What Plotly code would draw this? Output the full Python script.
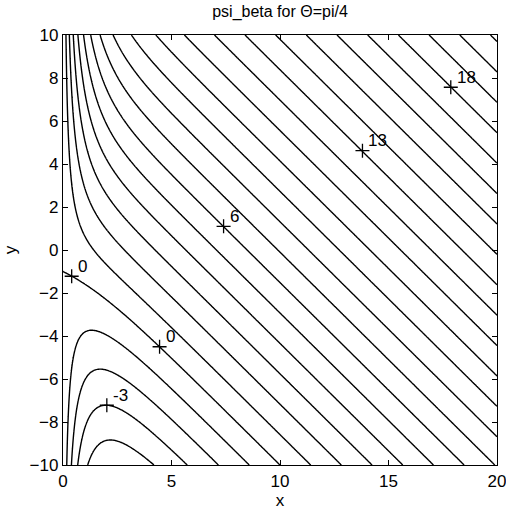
import numpy as np
import plotly.graph_objects as go

# Field: psi_beta for Theta = pi/4  (psi = x sin(T) + y cos(T) (1 - exp(-x)))
theta = np.pi / 4
x_range = [0, 20]
y_range = [-10, 10]
level_start, level_end, level_step = -6, 22, 1

# Contour labels (value, position)
label_x = [0.40, 4.45, 2.02, 7.40, 13.8, 17.87]
label_y = [-1.22, -4.50, -7.22, 1.10, 4.62, 7.57]
label_text = ["0", "0", "-3", "6", "13", "18"]

x_ticks = [0, 5, 10, 15, 20]
y_ticks = [-10, -8, -6, -4, -2, 0, 2, 4, 6, 8, 10]

xs = np.concatenate([np.linspace(0.0005, 0.5, 300), np.linspace(0.51, 20, 500)])
ys = np.linspace(-10, 10, 500)
X, Y = np.meshgrid(xs, ys)
Z = X * np.sin(theta) + Y * np.cos(theta) * (1 - np.exp(-X))

font = "Liberation Sans, Arial, Helvetica, sans-serif"

fig = go.Figure()
fig.add_trace(go.Contour(
    x=xs, y=ys, z=Z,
    contours=dict(start=level_start, end=level_end, size=level_step, coloring="lines"),
    colorscale=[[0, "black"], [1, "black"]],
    line=dict(width=1.4, color="black"),
    showscale=False, hoverinfo="skip",
))
fig.add_trace(go.Scatter(
    x=label_x, y=label_y, mode="markers",
    marker=dict(symbol="cross-thin", size=10, line=dict(width=1.3, color="black"), color="black"),
    showlegend=False, hoverinfo="skip",
))
for lx, ly, lt in zip(label_x, label_y, label_text):
    fig.add_annotation(x=lx, y=ly, text=lt, showarrow=False, xanchor="left", yanchor="middle",
                       xshift=4, yshift=10, font=dict(family=font, size=17, color="black"))

axis_common = dict(
    showgrid=False, zeroline=False, showline=True, linecolor="black", linewidth=1.4,
    mirror="ticks", ticks="inside", ticklen=5, tickcolor="black", automargin=False,
    ticklabeloverflow="allow",
    tickfont=dict(family=font, size=17, color="black"),
)
fig.update_xaxes(range=x_range, tickvals=x_ticks, title=dict(text="x", font=dict(family=font, size=17, color="black"), standoff=3), **axis_common)
fig.update_yaxes(range=y_range, tickvals=y_ticks, title=dict(text="y", font=dict(family=font, size=17, color="black"), standoff=8), **axis_common)

fig.update_layout(
    width=506, height=512,
    margin=dict(l=63, r=9, t=35, b=47),
    paper_bgcolor="white", plot_bgcolor="white",
    title=dict(text="psi_beta for Θ=pi/4", x=0.5, xanchor="center", xref="paper", y=0.988, yanchor="top",
               font=dict(family=font, size=16, color="black")),
    showlegend=False,
)
fig.write_html("out.html")
